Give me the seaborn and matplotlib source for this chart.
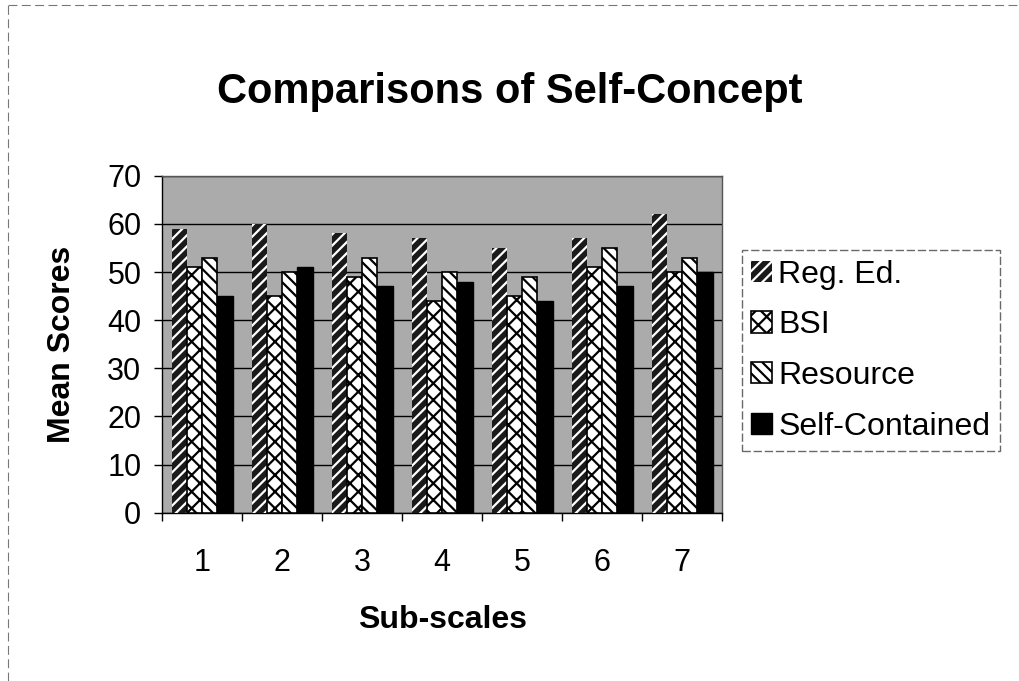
import pandas as pd
import matplotlib.pyplot as plt
import seaborn as sns
from matplotlib.lines import Line2D

# Datos
subscales = ["1", "2", "3", "4", "5", "6", "7"]
groups = ["Reg. Ed.", "BSI", "Resource", "Self-Contained"]
reg_ed = [59, 60, 58, 57, 55, 57, 62]
bsi = [51, 45, 49, 44, 45, 51, 50]
resource = [53, 50, 53, 50, 49, 55, 53]
self_contained = [45, 51, 47, 48, 44, 47, 50]

data = pd.DataFrame({
    "Sub-scales": subscales * 4,
    "Grupo": [g for g in groups for _ in subscales],
    "Mean Scores": reg_ed + bsi + resource + self_contained,
})

sns.set_theme(style="white")
plt.rcParams['font.family'] = ['Liberation Sans', 'DejaVu Sans']
plt.rcParams['text.color'] = 'black'
plt.rcParams['axes.labelcolor'] = 'black'
plt.rcParams['xtick.color'] = 'black'
plt.rcParams['ytick.color'] = 'black'
plt.rcParams['hatch.linewidth'] = 1.6

fig = plt.figure(figsize=(10.2, 6.81), dpi=100)
ax = fig.add_axes([0.159, 0.247, 0.549, 0.495])
ax.set_facecolor("#ababab")

sns.barplot(data=data, x="Sub-scales", y="Mean Scores", hue="Grupo",
            hue_order=groups, order=subscales, width=0.76, legend=False,
            palette=["black"] * 4, ax=ax, zorder=3)

# Estilos de relleno por grupo
styles = [
    dict(facecolor="#1a1a1a", edgecolor="white", hatch="///", linewidth=0),
    dict(facecolor="white", edgecolor="black", hatch="xx", linewidth=1.2),
    dict(facecolor="white", edgecolor="black", hatch="\\\\\\", linewidth=1.2),
    dict(facecolor="black", edgecolor="black", hatch=None, linewidth=1.0),
]
for cont, st in zip(ax.containers, styles):
    for p in cont:
        p.set_facecolor(st["facecolor"])
        p.set_edgecolor(st["edgecolor"])
        p.set_hatch(st["hatch"])
        p.set_linewidth(st["linewidth"])

ax.set_ylim(0, 70)
ax.set_yticks(range(0, 71, 10))
ax.set_xlim(-0.5, 6.5)
ax.grid(axis="y", color="black", linewidth=1.0, zorder=1)
ax.set_axisbelow(True)
for s in ax.spines.values():
    s.set_color("#555555")
    s.set_linewidth(1.0)
ax.spines["left"].set_color("black")
ax.spines["bottom"].set_color("black")

ax.tick_params(axis="y", which="major", length=6, width=1, color="black",
               labelsize=22, left=True, pad=9)
ax.tick_params(axis="x", which="major", length=0, labelsize=22, pad=25)
ax.set_xticks([i + 0.5 for i in range(-1, 7)], minor=True)
ax.tick_params(axis="x", which="minor", length=6, width=1, color="black", bottom=True)

ax.set_xlabel("Sub-scales", fontsize=23, fontweight="bold", labelpad=20)
ax.set_ylabel("Mean Scores", fontsize=23, fontweight="bold", labelpad=22)
fig.suptitle("Comparisons of Self-Concept", fontsize=30, fontweight="bold", y=0.895)

leg = fig.legend(ax.containers, groups, loc="upper left",
                 bbox_to_anchor=(0.727, 0.633), fontsize=23, frameon=True,
                 fancybox=False, edgecolor="#444444", handlelength=0.65,
                 handleheight=0.65, handletextpad=0.2, labelspacing=0.65,
                 borderpad=0.3, borderaxespad=0)
leg.get_frame().set_linewidth(1.0)
leg.get_frame().set_linestyle((0, (6, 2)))

# Marco exterior (solo arriba e izquierda, como en la imagen escaneada)
fig.add_artist(Line2D([0.008, 0.998], [0.993, 0.993], transform=fig.transFigure,
                      color="#777777", linewidth=0.8, linestyle=(0, (8, 4))))
fig.add_artist(Line2D([0.008, 0.008], [0.0, 0.993], transform=fig.transFigure,
                      color="#777777", linewidth=0.8, linestyle=(0, (8, 4))))

fig.savefig("out.png", dpi=100)
